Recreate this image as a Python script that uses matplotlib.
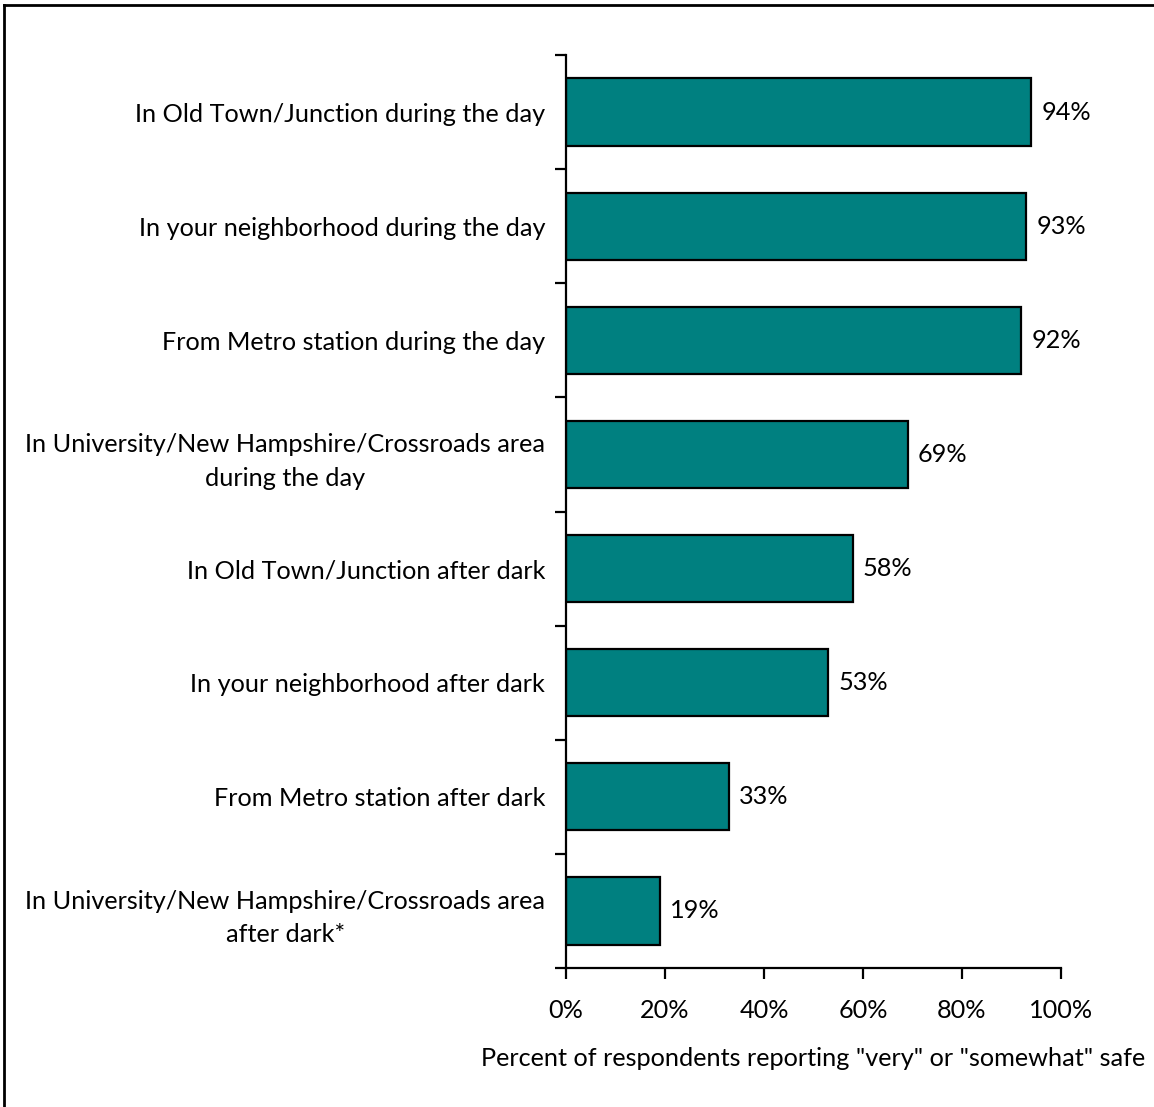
#load libraries
import matplotlib
matplotlib.use("Agg")
import matplotlib.pyplot as plt
import numpy as np
from matplotlib.lines import Line2D

plt.rcParams['font.family'] = ['Lato', 'DejaVu Sans']
FS = 18.2

#data, top to bottom as in the chart
categories = [
    "In Old Town/Junction during the day",
    "In your neighborhood during the day",
    "From Metro station during the day",
    "In University/New Hampshire/Crossroads area\nduring the day",
    "In Old Town/Junction after dark",
    "In your neighborhood after dark",
    "From Metro station after dark",
    "In University/New Hampshire/Crossroads area\nafter dark*",
]
values = [94, 93, 92, 69, 58, 53, 33, 19]
x_ticks = [0, 20, 40, 60, 80, 100]
x_tick_labels = ["0%", "20%", "40%", "60%", "80%", "100%"]
x_label = 'Percent of respondents reporting "very" or "somewhat" safe'

fig = plt.figure(figsize=(11.54, 11.07), dpi=100)
ax = fig.add_axes([566/1154, 1-968/1107, 495/1154, 913/1107])

y = np.arange(len(categories))
ax.barh(y, values, height=0.59, color="#008080", edgecolor="black", linewidth=1.6)

#value labels at end of each bar
for yi, v in zip(y, values):
    ax.text(v + 2.0, yi, f"{v}%", va="center", ha="left", fontsize=FS)

ax.set_xlim(0, 100)
ax.set_ylim(len(categories) - 0.5, -0.5)

#x axis
ax.set_xticks(x_ticks)
ax.set_xticklabels(x_tick_labels, fontsize=FS)
ax.tick_params(axis="x", direction="out", length=8, width=1.6, pad=14)
ax.set_xlabel(x_label, fontsize=FS, labelpad=18)

#y axis: labels at centers, ticks at boundaries
ax.set_yticks(y)
ax.set_yticklabels(categories, fontsize=FS, multialignment="center", linespacing=1.55)
ax.tick_params(axis="y", which="major", length=0, pad=15)
ax.set_yticks(np.arange(-0.5, len(categories), 1), minor=True)
ax.tick_params(axis="y", which="minor", direction="out", length=8, width=1.6)

for s in ["top", "right"]:
    ax.spines[s].set_visible(False)
for s in ["left", "bottom"]:
    ax.spines[s].set_linewidth(1.6)

#outer frame (partly off the picture)
fig.add_artist(Line2D([4/1154, 4/1154], [0, 1-5/1107], color="black", lw=2, transform=fig.transFigure))
fig.add_artist(Line2D([4/1154, 1], [1-5/1107, 1-5/1107], color="black", lw=2, transform=fig.transFigure))

plt.savefig("out.png", dpi=100)
